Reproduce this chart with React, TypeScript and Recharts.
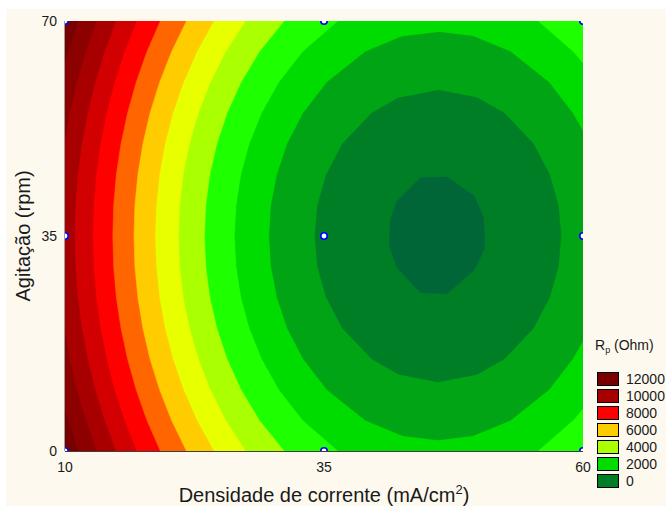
import React from 'react';
import { ScatterChart, Scatter, XAxis, YAxis } from 'recharts';

type Pt = [number, number];

const FONT = "'Liberation Sans', Arial, Helvetica, sans-serif";
const CREAM = '#FDF9EF';

// axes
const xDomain: [number, number] = [10, 60];
const yDomain: [number, number] = [0, 70];
const xTicks = [10, 35, 60];
const yTicks = [0, 35, 70];
const topMinorTicks = [14.17, 18.33, 22.5, 26.67, 30.83, 35, 39.17, 43.33, 47.5, 51.67, 55.83];
const rightMinorTicks = [5.83, 11.67, 17.5, 23.33, 29.17, 35, 40.83, 46.67, 52.5, 58.33, 64.17];

// design points (blue circles)
const designX = [10, 35, 60];
const designY = [0, 35, 70];

// y positions at which the open (left-side) contour lines were read
const ySamples = [70, 65, 60, 55, 50, 45, 40, 35, 30, 25, 20, 15, 10, 5, 0];

// contour lines (x at each y sample)
const c12000Top: Pt[] = [[11.31, 70], [10.31, 65], [10, 63.2]];
const c12000Bottom: Pt[] = [[10, 6.8], [10.31, 5], [11.31, 0]];
const c11000Top: Pt[] = [[13.08, 70], [12.04, 65], [11.18, 60], [10.49, 55], [10, 50.4]];
const c11000Bottom: Pt[] = [[10, 19.6], [10.49, 15], [11.18, 10], [12.04, 5], [13.08, 0]];
const c10000 = [14.96, 13.85, 12.95, 12.22, 11.67, 11.28, 11.05, 10.97, 11.05, 11.28, 11.67, 12.22, 12.95, 13.85, 14.96];
const c9000 = [16.96, 15.78, 14.81, 14.05, 13.46, 13.05, 12.81, 12.73, 12.81, 13.05, 13.46, 14.05, 14.81, 15.78, 16.96];
const c8000 = [19.21, 17.91, 16.87, 16.04, 15.41, 14.96, 14.7, 14.62, 14.7, 14.96, 15.41, 16.04, 16.87, 17.91, 19.21];
const c7000 = [21.73, 20.29, 19.13, 18.21, 17.52, 17.04, 16.75, 16.66, 16.75, 17.04, 17.52, 18.21, 19.13, 20.29, 21.73];
const c6000 = [24.41, 22.77, 21.47, 20.45, 19.69, 19.16, 18.85, 18.74, 18.85, 19.16, 19.69, 20.45, 21.47, 22.77, 24.41];
const c5000 = [27.47, 25.55, 24.06, 22.91, 22.06, 21.46, 21.12, 21.0, 21.12, 21.46, 22.06, 22.91, 24.06, 25.55, 27.47];
const c4000 = [31.19, 28.81, 27.03, 25.69, 24.71, 24.03, 23.64, 23.51, 23.64, 24.03, 24.71, 25.69, 27.03, 28.81, 31.19];
const c3000Left = [36.38, 32.97, 30.66, 29.01, 27.82, 27.02, 26.56, 26.4, 26.56, 27.02, 27.82, 29.01, 30.66, 32.97, 36.38];
const c3000Right: Pt[] = [[55.62, 0], [59.03, 5], [60, 6.9], [60, 63.1], [59.03, 65], [55.62, 70]];
const c2000: Pt[] = [
  [46, 68.2], [49.39, 67.5], [53, 65], [56.72, 60], [59, 55], [60, 52], [60, 18], [59, 15], [56.72, 10],
  [53, 5], [49.39, 2.5], [46, 1.8], [42.61, 2.5], [39, 5], [35.28, 10], [33, 15], [31.47, 20], [30.48, 25],
  [29.91, 30], [29.72, 35], [29.91, 40], [30.48, 45], [31.47, 50], [33, 55], [35.28, 60], [39, 65], [42.61, 67.5],
];
const c1000: Pt[] = [
  [46, 58.75], [49.8, 57.5], [52.4, 55], [55.21, 50], [56.77, 45], [57.61, 40], [57.87, 35], [57.61, 30],
  [56.77, 25], [55.21, 20], [52.4, 15], [49.8, 12.5], [46, 11.25], [42.2, 12.5], [39.6, 15], [36.79, 20],
  [35.23, 25], [34.39, 30], [34.13, 35], [34.39, 40], [35.23, 45], [36.79, 50], [39.6, 55], [42.2, 57.5],
];
const c0: Pt[] = [
  [44.3, 44.5], [46.9, 44.6], [49.5, 41.5], [50.4, 38], [50.5, 33], [49.5, 29.5], [46.9, 25.6],
  [44.3, 25.8], [42.0, 30], [41.3, 33.5], [41.4, 37.5], [42.0, 40.6],
];

// band colours (from > 12000 down to < 0)
const bandColors = [
  '#780000', '#8C0000', '#A80000', '#D20000', '#FF0000', '#FF6600', '#FFCC00',
  '#E8FF00', '#AAFF00', '#1EFF00', '#00DC00', '#00A414', '#007E25', '#006637',
];

// legend
const legendLabels = ['12000', '10000', '8000', '6000', '4000', '2000', '0'];
const legendColors = ['#780000', '#A80000', '#FF0000', '#FFCC00', '#AAFF00', '#00DC00', '#007E25'];

const zip = (xs: number[]): Pt[] => xs.map((x, i) => [x, ySamples[i]] as Pt);
const frame: Pt[] = [[10, 70], [60, 70], [60, 0], [10, 0]];
const rightClose: Pt[] = [[60, 0], [60, 70]];

const regionPolys: Pt[][] = [
  frame,
  [...c12000Top, ...c12000Bottom, ...rightClose],
  [...c11000Top, ...c11000Bottom, ...rightClose],
  [...zip(c10000), ...rightClose],
  [...zip(c9000), ...rightClose],
  [...zip(c8000), ...rightClose],
  [...zip(c7000), ...rightClose],
  [...zip(c6000), ...rightClose],
  [...zip(c5000), ...rightClose],
  [...zip(c4000), ...rightClose],
  [...zip(c3000Left), ...c3000Right],
  c2000,
  c1000,
  c0,
];

const designPoints = designX.flatMap((x) => designY.map((y) => ({ x, y })));

const emptyShape = () => <g />;
const emptyTick = () => <g />;

// dots sitting on the frame are cut by it (only the inner part shows)
const dotShape = (p: any) => {
  const r = 3.2;
  const pad = 5;
  const px = p.payload ? p.payload.x : null;
  const py = p.payload ? p.payload.y : null;
  const x0 = px !== null && px <= xDomain[0] ? p.cx : p.cx - pad;
  const x1 = px !== null && px >= xDomain[1] ? p.cx : p.cx + pad;
  const y0 = py !== null && py >= yDomain[1] ? p.cy : p.cy - pad;
  const y1 = py !== null && py <= yDomain[0] ? p.cy : p.cy + pad;
  const id = `dotclip-${px}-${py}`;
  return (
    <g>
      <defs>
        <clipPath id={id}>
          <rect x={x0} y={y0} width={x1 - x0} height={y1 - y0} />
        </clipPath>
      </defs>
      <circle cx={p.cx} cy={p.cy} r={r} fill="#ffffff" stroke="#0000FF" strokeWidth={1.6} clipPath={`url(#${id})`} />
    </g>
  );
};

const tickStyle = { fill: '#1a1a1a', fontSize: 14, fontFamily: FONT };

export default function App() {
  return (
    <div style={{ position: 'absolute', left: 0, top: 0, width: 666, height: 506, background: '#ffffff', overflow: 'hidden' }}>
      <div style={{ position: 'absolute', left: 6, top: 9, right: 0, bottom: 0, background: CREAM }} />
      <div style={{ position: 'absolute', left: 0, top: 0 }}>
        <ScatterChart width={666} height={506} margin={{ top: 21, right: 83, bottom: 0, left: 0 }}>
          {regionPolys.map((poly, i) => (
            <Scatter
              key={'r' + i}
              data={poly.map(([x, y]) => ({ x, y }))}
              fill={bandColors[i]}
              line={{ fill: bandColors[i], stroke: bandColors[i], strokeWidth: 0.6 }}
              lineJointType="linear"
              lineType="joint"
              shape={emptyShape}
              isAnimationActive={false}
            />
          ))}
          <XAxis
            type="number"
            dataKey="x"
            domain={xDomain}
            ticks={xTicks}
            interval={0}
            allowDataOverflow
            height={55}
            tickLine={false}
            tickSize={0}
            tickMargin={11}
            axisLine={{ stroke: '#000', strokeWidth: 1.5 }}
            tick={tickStyle}
          />
          <YAxis
            type="number"
            dataKey="y"
            domain={yDomain}
            ticks={yTicks}
            interval={0}
            allowDataOverflow
            width={65}
            tickLine={false}
            tickSize={0}
            tickMargin={8}
            axisLine={{ stroke: '#444' }}
            tick={tickStyle}
          />
          <XAxis
            xAxisId="top"
            orientation="top"
            type="number"
            dataKey="x"
            domain={xDomain}
            ticks={topMinorTicks}
            interval={0}
            allowDataOverflow
            height={0}
            mirror
            tickSize={3}
            tickLine={{ stroke: '#000' }}
            axisLine={{ stroke: '#555' }}
            tick={emptyTick}
          />
          <YAxis
            yAxisId="right"
            orientation="right"
            type="number"
            dataKey="y"
            domain={yDomain}
            ticks={rightMinorTicks}
            interval={0}
            allowDataOverflow
            width={0}
            mirror
            tickSize={3}
            tickLine={{ stroke: '#000' }}
            axisLine={{ stroke: '#000', strokeWidth: 2 }}
            tick={emptyTick}
          />
          <Scatter data={designPoints} shape={dotShape} isAnimationActive={false} />
        </ScatterChart>
      </div>
      <svg width={666} height={506} style={{ position: 'absolute', left: 0, top: 0, pointerEvents: 'none' }}>
        <text x={324} y={501.5} textAnchor="middle" fontFamily={FONT} fontSize={20} fill="#1a1a1a">
          Densidade de corrente (mA/cm<tspan fontSize={13} dy={-8}>2</tspan><tspan dy={8}>)</tspan>
        </text>
        <text
          x={29.5}
          y={236}
          textAnchor="middle"
          fontFamily={FONT}
          fontSize={20}
          fill="#1a1a1a"
          transform="rotate(-90, 29.5, 236)"
        >
          Agitação (rpm)
        </text>
        <text x={595} y={350} fontFamily={FONT} fontSize={14} fill="#1a1a1a">
          R<tspan fontSize={9} dy={3}>p</tspan><tspan dy={-3}> (Ohm)</tspan>
        </text>
        {legendLabels.map((lab, i) => (
          <g key={lab}>
            <rect x={597.5} y={372.5 + i * 17} width={21} height={13} fill={legendColors[i]} stroke="#000" strokeWidth={1} />
            <text x={626} y={384 + i * 17} fontFamily={FONT} fontSize={14} fill="#1a1a1a">
              {lab}
            </text>
          </g>
        ))}
      </svg>
    </div>
  );
}
